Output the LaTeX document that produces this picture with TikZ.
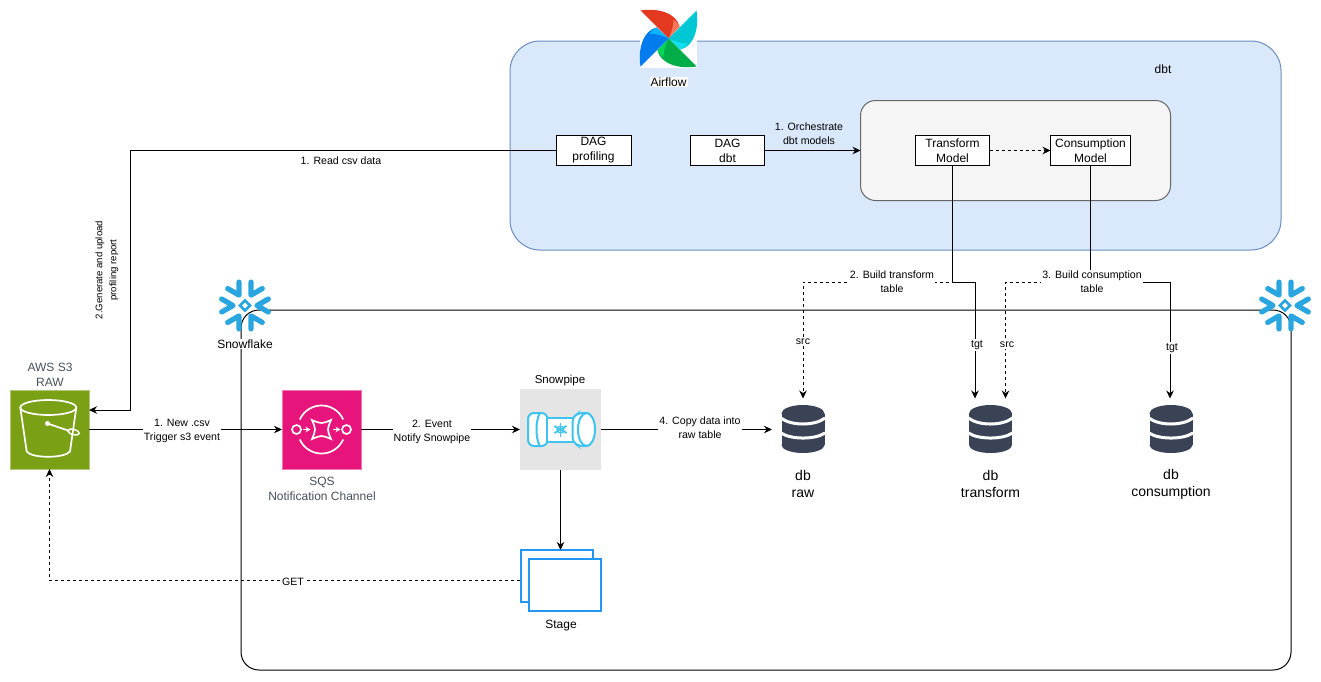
\documentclass[tikz,border=0pt]{standalone}
\usepackage{fontspec}
\setmainfont{Liberation Sans}
\usepackage{xcolor}
\usepackage{tikz}
\usetikzlibrary{shapes.geometric, arrows.meta}

\definecolor{flakeblue}{HTML}{29A5E0}
\definecolor{pipeblue}{HTML}{3EC4EE}
\definecolor{stageblue}{HTML}{2196F3}
\definecolor{dbdark}{HTML}{3A4256}
\definecolor{awstext}{HTML}{46505C}
\definecolor{zoneblue}{HTML}{DAE8FC}
\definecolor{zoneedge}{HTML}{6C8EBF}
\definecolor{modelgrey}{HTML}{F5F5F5}
\definecolor{modeledge}{HTML}{666666}
\definecolor{s3green}{HTML}{7AA116}
\definecolor{s3edge}{HTML}{B0C878}
\definecolor{sqspink}{HTML}{E7157B}
\definecolor{sqsedge}{HTML}{F078B4}
\definecolor{pipegrey}{HTML}{E5E5E5}
\definecolor{airred}{HTML}{E43921}
\definecolor{airredlight}{HTML}{FF7557}
\definecolor{aircyan}{HTML}{00C7D4}
\definecolor{aircyanlight}{HTML}{11E1EE}
\definecolor{airgreen}{HTML}{00AD46}
\definecolor{airgreenlight}{HTML}{04D659}
\definecolor{airblue}{HTML}{017CEE}
\definecolor{airbluelight}{HTML}{0CB6FF}

\tikzstyle{dbtzone} = [rectangle, rounded corners=30pt, minimum width=771pt, minimum height=209pt, inner sep=0pt, outer sep=0pt, line width=1pt, draw=zoneedge, fill=zoneblue]
\tikzstyle{modelzone} = [rectangle, rounded corners=15pt, minimum width=310pt, minimum height=100pt, inner sep=0pt, outer sep=0pt, line width=1pt, draw=modeledge, fill=modelgrey]
\tikzstyle{snowzone} = [rectangle, rounded corners=18pt, minimum width=1050pt, minimum height=360pt, inner sep=0pt, outer sep=0pt, line width=1pt, draw=black]
\tikzstyle{process} = [rectangle, minimum height=30pt, inner sep=0pt, outer sep=0pt, text centered, align=center, line width=1pt, draw=black, fill=white, font=\fontsize{12}{15}\selectfont]
\tikzstyle{awsicon} = [rectangle, minimum width=79pt, minimum height=79pt, inner sep=0pt, outer sep=0pt, line width=1pt]
\tikzstyle{iconspot} = [rectangle, minimum width=62pt, minimum height=62pt, inner sep=0pt, outer sep=0pt]
\tikzstyle{sheet} = [rectangle, minimum width=72pt, minimum height=52pt, inner sep=0pt, draw=stageblue, fill=white, line width=2pt]
\tikzstyle{flowlabel} = [align=center, fill=white, inner sep=1pt, font=\fontsize{10.6}{14}\selectfont]
\tikzstyle{iconlabel} = [align=center, inner sep=1pt, font=\fontsize{12}{15}\selectfont]
\tikzstyle{dblabel} = [align=center, inner sep=1pt, font=\fontsize{14}{17}\selectfont]
\tikzstyle{link} = [line width=1pt]
\tikzstyle{arrow} = [line width=1pt,->,>={Stealth[length=8pt,width=7.5pt]}]
\tikzstyle{dasharrow} = [line width=1pt,dashed,->,>={Stealth[length=8pt,width=7.5pt]}]

\tikzset{
  snowflake/.pic={
    \foreach \a in {0,60,...,300} {
      \draw [flakeblue, line width=5.2pt, line cap=round, line join=round, rotate=\a] (23.3,6.5) -- (12,0) -- (23.3,-6.5);
    }
    \draw [flakeblue, line width=2.6pt] (0,-5) -- (5,0) -- (0,5) -- (-5,0) -- cycle;
  },
  pics/pinblade/.style 2 args={code={
    \fill [#1] (-28,-28) .. controls (-10,-31) and (8,-25) .. (11,-12) -- (0,0) -- cycle;
    \fill [#2] (0,0) -- (11,-12) .. controls (9.5,-15) and (8,-17) .. (5,-19) .. controls (5,-12) and (3,-6) .. (0,0) -- cycle;
  }},
  dbstack/.pic={
    \fill [dbdark] (0,-15.5) ellipse [x radius=21.5, y radius=8.5];
    \fill [dbdark] (-21.5,-15.5) rectangle (21.5,16);
    \fill [dbdark] (0,16) ellipse [x radius=21.5, y radius=8];
    \draw [white, line width=3pt] (-22,-11) .. controls (-12,-3) and (12,-3) .. (22,-11);
    \draw [white, line width=3pt] (-22,4) .. controls (-12,10.7) and (12,10.7) .. (22,4);
  },
  bucket/.pic={
    \draw [white, line width=1.7pt] (-1.2,-22) ellipse [x radius=28, y radius=7.5];
    \draw [white, line width=1.7pt] (-29.2,-22) -- (-22.8,22) .. controls (-18,29) and (15,29) .. (20.5,22) -- (26.8,-22);
    \draw [white, line width=1.7pt] (-2,-6) -- (20,1.5);
    \draw [white, line width=1.4pt, rotate around={-15:(24,2.5)}] (24,2.5) ellipse [x radius=6, y radius=2.6];
    \fill [white] (-2,-6) circle [radius=2.5];
  },
  sqsqueue/.pic={
    \draw [white, line width=1.7pt] (-21.7,-10) .. controls (-13,-28.7) and (13,-28.7) .. (21.7,-10);
    \draw [white, line width=1.7pt] (-21.7,10) .. controls (-13,28.7) and (13,28.7) .. (21.7,10);
    \draw [white, line width=1.7pt] (-25,0) circle [radius=4.5];
    \draw [white, line width=1.7pt] (25,0) circle [radius=4.5];
    \draw [white, line width=1.7pt] (-9.5,-9.5) .. controls (0,-5.5) .. (9.5,-9.5) .. controls (5.5,0) .. (9.5,9.5) .. controls (0,5.5) .. (-9.5,9.5) .. controls (-5.5,0) .. (-9.5,-9.5) -- cycle;
    \draw [white, line width=1.7pt, ->, >={Stealth[length=5pt,width=5.5pt]}] (-19,0) -- (-11,0);
    \draw [white, line width=1.7pt, ->, >={Stealth[length=5pt,width=5.5pt]}] (11,0) -- (19,0);
  },
  pipe/.pic={
    \draw [pipeblue, line width=2pt, fill=white, rounded corners=6pt] (-32.5,-16.5) rectangle (-13,16.5);
    \draw [pipeblue, line width=2pt] (-21,-16) .. controls (-25,-8) and (-25,8) .. (-21,16);
    \draw [pipeblue, line width=2pt, fill=white] (-14,-12) rectangle (13,12);
    \draw [pipeblue, line width=2pt, fill=white, rounded corners=4pt] (12,-12) -- (18,-16.5) -- (30,-16.5) -- (30,16.5) -- (18,16.5) -- (12,12) -- cycle;
    \draw [pipeblue, line width=2pt, fill=white] (26,0) ellipse [x radius=8.5, y radius=16.5];
    \foreach \a in {30,90,150} {
      \draw [pipeblue, line width=1.8pt, rotate=\a] (-7,0) -- (7,0);
    }
    \draw [pipeblue, line width=1.2pt] (0,0) circle [radius=3.5];
  }
}

\begin{document}
\begin{tikzpicture}[x=1pt, y=-1pt]

        \useasboundingbox (0,0) rectangle (1321,681);

        % Zones
        \node (dbtarea) [dbtzone] at (895.5,145.5) {};
        \node (models) [modelzone] at (1015.5,150.5) {};
        \node (snowarea) [snowzone] at (766,490) {};

        % Airflow
        \node (airflow) [rectangle, minimum width=57pt, minimum height=58pt, inner sep=0pt, fill=white] at (668.5,39) {};
        \pic at (668.5,38.5) {pinblade={airred}{airredlight}};
        \pic [rotate=-90] at (668.5,38.5) {pinblade={aircyan}{aircyanlight}};
        \pic [rotate=-180] at (668.5,38.5) {pinblade={airgreen}{airgreenlight}};
        \pic [rotate=-270] at (668.5,38.5) {pinblade={airblue}{airbluelight}};
        \node (airflowlabel) [iconlabel, fill=white] at (668.5,82) {Airflow};
        \node (dbtlabel) [iconlabel] at (1163,69) {dbt};

        % Boxes
        \node (profiling) [process, minimum width=75pt] at (593.5,150.5) {DAG\\profiling};
        \node (dagdbt) [process, minimum width=74pt] at (727.5,150.5) {DAG\\dbt};
        \node (transform) [process, minimum width=74pt] at (952.5,150.5) {Transform\\Model};
        \node (consumption) [process, minimum width=80pt] at (1090.5,150.5) {Consumption\\Model};

        % Snowflake
        \node (snowleft) [iconspot, minimum width=52pt, minimum height=52pt] at (245,305.5) {};
        \pic at (snowleft) {snowflake};
        \node (snowright) [iconspot, minimum width=52pt, minimum height=52pt] at (1285,305.5) {};
        \pic at (snowright) {snowflake};

        % Ingestion
        \node (s3) [awsicon, fill=s3green, draw=s3edge] at (49.5,429.5) {};
        \pic at (s3) {bucket};
        \node (sqs) [awsicon, fill=sqspink, draw=sqsedge] at (321.5,429.5) {};
        \pic at (sqs) {sqsqueue};
        \node (snowpipe) [rectangle, minimum width=81pt, minimum height=81pt, inner sep=0pt, outer sep=0pt, fill=pipegrey] at (560.5,429.5) {};
        \pic at (snowpipe) {pipe};
        \node (stage) [rectangle, minimum width=81pt, minimum height=61pt, inner sep=0pt, outer sep=0pt] at (560.5,580.5) {};
        \node (stageback) [sheet] at (556.5,576) {};
        \node (stagefront) [sheet] at (564.5,584.5) {};

        % Tables
        \node (dbraw) [iconspot] at (803,429.5) {};
        \pic at (803,429) {dbstack};
        \node (dbtransform) [iconspot] at (990.5,429.5) {};
        \pic at (990.5,429) {dbstack};
        \node (dbconsumption) [iconspot] at (1171,429.5) {};
        \pic at (1171,429) {dbstack};

        % Turning points
        \coordinate (readturn) at (130.5,150.5);
        \coordinate (transformturn) at (952.5,282);
        \coordinate (transformsrc) at (803,282);
        \coordinate (transformtgt) at (975,282);
        \coordinate (consumptionturn) at (1090.5,282);
        \coordinate (consumptionsrc) at (1005.5,282);
        \coordinate (consumptiontgt) at (1170,282);

        % Connections
        \draw [arrow] (dagdbt) -- (models);
        \draw [dasharrow] (transform) -- (consumption);
        \draw [arrow] (profiling) -- (readturn) -- (readturn |- 0,410) -- ([yshift=19.5pt]s3.east);
        \draw [arrow] (s3) -- (sqs);
        \draw [arrow] (sqs) -- (snowpipe);
        \draw [arrow] (snowpipe) -- (dbraw);
        \draw [arrow] (snowpipe) -- (stage);
        \draw [dasharrow] (stage) -| (s3);
        \draw [dasharrow] (transform.south) -- (transformturn) -- (transformsrc) -- (dbraw.north);
        \draw [arrow] (transform.south) -- (transformturn) -- (transformtgt) -- (transformtgt |- dbtransform.north);
        \draw [link] (consumption.south) -- (consumptionturn);
        \draw [dasharrow] (consumptionturn) -- (consumptionsrc) -- (consumptionsrc |- dbtransform.north);
        \draw [arrow] (consumptionturn) -- (consumptiontgt) -- (consumptiontgt |- dbconsumption.north);

        % Labels
        \node (readlabel) [flowlabel] at (341,161) {1. Read csv data};
        \node (orchlabel) [flowlabel, fill=none] at (809,134) {1. Orchestrate\\dbt models};
        \node (reportlabel) [flowlabel, rotate=90, font=\fontsize{9.6}{14}\selectfont] at (107,270) {2.Generate and upload\\profiling report};
        \node (newlabel) [flowlabel] at (182,431) {1. New .csv\\Trigger s3 event};
        \node (eventlabel) [flowlabel] at (432,432) {2. Event\\Notify Snowpipe};
        \node (copylabel) [flowlabel] at (700,428) {4. Copy data into\\raw table};
        \node (getlabel) [flowlabel] at (293,582) {GET};
        \node (buildtlabel) [flowlabel] at (892,282) {2. Build transform\\table};
        \node (buildclabel) [flowlabel] at (1092,282) {3. Build consumption\\table};
        \node (srcraw) [flowlabel] at (803,342) {src};
        \node (tgttransform) [flowlabel] at (977,345) {tgt};
        \node (srctransform) [flowlabel] at (1007,345) {src};
        \node (tgtconsumption) [flowlabel] at (1172,348) {tgt};
        \node (snowlabel) [iconlabel, fill=white] at (245,344) {Snowflake};
        \node (s3label) [iconlabel, text=awstext] at (50,375) {AWS S3\\RAW};
        \node (sqslabel) [iconlabel, text=awstext] at (322,489) {SQS\\Notification Channel};
        \node (pipelabel) [iconlabel, font=\fontsize{11.5}{14}\selectfont] at (560,381) {Snowpipe};
        \node (stagelabel) [iconlabel] at (561,626) {Stage};
        \node (rawlabel) [dblabel] at (803,484) {db\\raw};
        \node (transformlabel) [dblabel] at (990.5,484) {db\\transform};
        \node (consumptionlabel) [dblabel] at (1171,484) {db\\consumption};

    \end{tikzpicture}
\end{document}
